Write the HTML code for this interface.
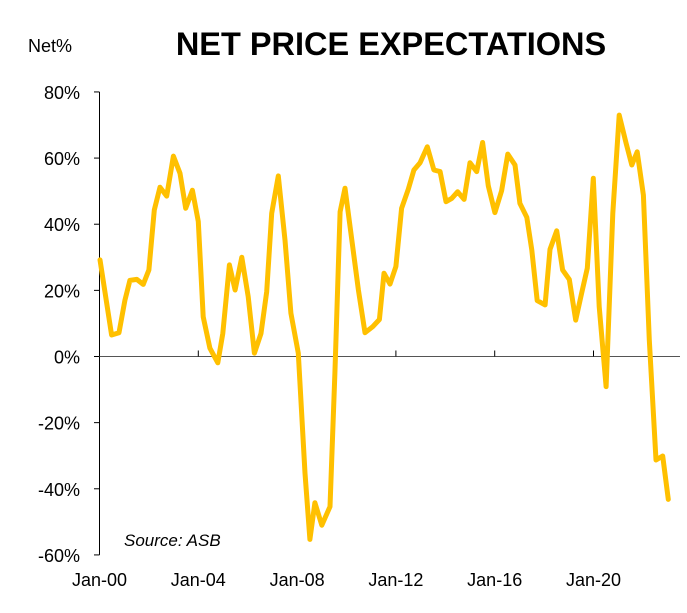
<!DOCTYPE html>
<html><head><meta charset="utf-8"><style>
body{margin:0;background:#fff;}
svg text{font-family:"Liberation Sans",Arial,sans-serif;}
</style></head><body>
<svg id="chart" width="687" height="608" xmlns="http://www.w3.org/2000/svg">
<text x="391" y="55" text-anchor="middle" font-size="32.5" font-weight="bold">NET PRICE EXPECTATIONS</text>
<text x="28" y="52" font-size="18">Net%</text>
<text x="124" y="546" font-size="17" font-style="italic">Source: ASB</text>
<g id="axes"></g>
<path id="series" fill="none" stroke="#FFC000" stroke-width="5" stroke-linejoin="round" stroke-linecap="round"/>
</svg>
<script>
const years=[0.02,0.49,0.79,1.03,1.23,1.51,1.77,2.0,2.22,2.45,2.72,2.99,3.26,3.49,3.76,4.0,4.2,4.47,4.79,4.99,5.26,5.49,5.76,6.02,6.27,6.54,6.77,6.97,7.24,7.51,7.75,8.05,8.32,8.52,8.72,9.0,9.33,9.53,9.74,9.94,10.48,10.75,11.06,11.33,11.52,11.76,12.0,12.23,12.5,12.73,12.98,13.27,13.54,13.79,14.03,14.26,14.5,14.76,15.0,15.27,15.51,15.74,16.01,16.28,16.53,16.82,17.02,17.3,17.5,17.72,18.04,18.24,18.51,18.75,19.02,19.28,19.52,19.75,19.99,20.23,20.51,20.78,21.04,21.32,21.55,21.77,22.02,22.26,22.53,22.8,23.03];
const values=[29.2,6.5,7.2,17,23,23.3,21.8,26.2,44.3,51.2,48.5,60.6,55.4,44.8,50.3,40.8,12,2.5,-1.9,7,27.7,20.1,30,18.1,1,7,19.6,43.3,54.6,35.2,13.1,1,-35.3,-55.3,-44.2,-51,-45.4,-5,43.8,50.9,20.1,7.2,9,11.2,25.2,21.9,27.2,44.8,50.6,56.4,58.6,63.4,56.4,55.9,46.8,47.8,49.8,47.5,58.6,55.9,64.7,51.6,43.5,50.1,61.2,57.9,46.3,42.1,32.2,16.9,15.6,32.4,38,26.2,23.3,11,19.1,26.7,53.9,15.1,-9.1,43.3,73,64.5,57.9,61.9,48.8,5,-31.3,-30.1,-43.2];
const yTicks=[80,60,40,20,0,-20,-40,-60];
const xTickYears=[0,4,8,12,16,20];
const xTickLabels=["Jan-00","Jan-04","Jan-08","Jan-12","Jan-16","Jan-20"];
const X=y=>99.5+y*24.7;
const Y=v=>356.5-v*3.307;
const NS="http://www.w3.org/2000/svg";
const ax=document.getElementById('axes');
function mk(t,a){const e=document.createElementNS(NS,t);for(const k in a)e.setAttribute(k,a[k]);ax.appendChild(e);return e;}
let l=mk('line',{x1:99.5,y1:Y(80),x2:99.5,y2:Y(-60),stroke:'#000','stroke-width':1});


l=mk('line',{x1:99.5,y1:Y(0),x2:680,y2:Y(0),stroke:'#555','stroke-width':1});


yTicks.forEach(v=>{
  const t=mk('line',{x1:94,y1:Y(v),x2:99.5,y2:Y(v),stroke:'#000'});
  
  
  const tx=mk('text',{x:80,y:Y(v)+7,'text-anchor':'end','font-size':18});
  tx.textContent=v+'%';
  
  
});
xTickYears.forEach((yr,i)=>{
  if(i>0){const t=mk('line',{x1:X(yr),y1:Y(0),x2:X(yr),y2:Y(0)-6,stroke:'#000'});
  
  }
  const tx=mk('text',{x:X(yr),y:586,'text-anchor':'middle','font-size':18});
  tx.textContent=xTickLabels[i];
  
  
});
document.getElementById('series').setAttribute('d',years.map((y,i)=>(i?'L':'M')+X(y).toFixed(1)+' '+Y(values[i]).toFixed(1)).join(' '));
</script>
</body></html>
